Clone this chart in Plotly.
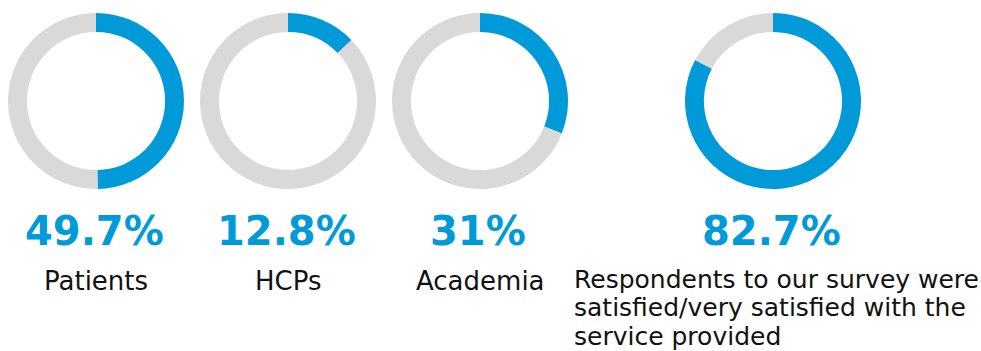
import plotly.graph_objects as go

W, H = 981, 351

categories = ["Patients", "HCPs", "Academia", "Satisfied"]
values = [49.7, 12.8, 31.0, 82.7]
value_labels = ["49.7%", "12.8%", "31%", "82.7%"]
labels = ["Patients", "HCPs", "Academia", None]
long_label_lines = [
    "Respondents to our survey were",
    "satisfied/very satisfied with the",
    "service provided",
]

BLUE = "#009ad9"
GRAY = "#d9d9d9"
FONT = "DejaVu Sans"

# donut placement (pixels)
centers_x = [96, 288, 480, 773]
center_y = 101
radius = 88

fig = go.Figure()
for i, v in enumerate(values):
    cx = centers_x[i]
    x0, x1 = (cx - radius) / W, (cx + radius) / W
    y0, y1 = 1 - (center_y + radius) / H, 1 - (center_y - radius) / H
    fig.add_trace(go.Pie(
        values=[v, 100 - v],
        labels=["value", "rest"],
        marker=dict(colors=[BLUE, GRAY], line=dict(width=0)),
        hole=0.785,
        sort=False,
        direction="clockwise",
        rotation=0,
        textinfo="none",
        hoverinfo="skip",
        showlegend=False,
        domain=dict(x=[x0, x1], y=[y0, y1]),
    ))

annotations = []
for i, txt in enumerate(value_labels):
    annotations.append(dict(
        text=f"<b>{txt}</b>", x=(centers_x[i] - 2) / W, y=1 - 231 / H,
        xref="paper", yref="paper", xanchor="center", yanchor="middle",
        showarrow=False, font=dict(family=FONT, size=40, color=BLUE),
    ))
for i, lab in enumerate(labels):
    if lab is None:
        continue
    annotations.append(dict(
        text=lab, x=centers_x[i] / W, y=1 - 281 / H,
        xref="paper", yref="paper", xanchor="center", yanchor="middle",
        showarrow=False, font=dict(family=FONT, size=26, color="#111111"),
    ))
for j, line in enumerate(long_label_lines):
    annotations.append(dict(
        text=line, x=572 / W, y=1 - (279 + 28.5 * j) / H,
        xref="paper", yref="paper", xanchor="left", yanchor="middle",
        showarrow=False, font=dict(family=FONT, size=25, color="#111111"),
    ))

fig.update_layout(
    width=W, height=H,
    margin=dict(l=0, r=0, t=0, b=0),
    paper_bgcolor="white", plot_bgcolor="white",
    annotations=annotations,
)

fig.write_html("out.html", config={"displayModeBar": False})
